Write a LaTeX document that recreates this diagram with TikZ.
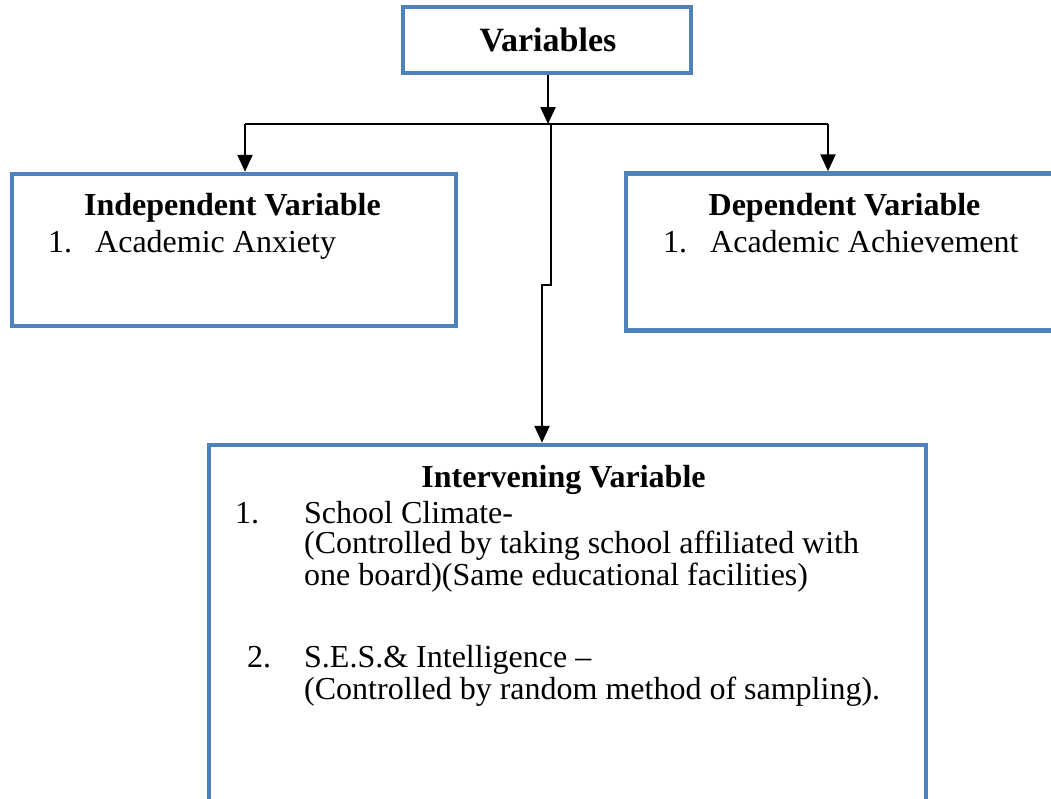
\documentclass[tikz,border=0pt]{standalone}
\usepackage{fontspec}
\setmainfont{Liberation Serif}
\usetikzlibrary{arrows.meta}
\definecolor{boxblue}{HTML}{4F81BD}
\tikzset{
  box/.style={draw=boxblue, line width=4.5pt, rectangle, inner sep=0pt, fill=none},
  arr/.style={draw=black, line width=2.4pt, -{Triangle[width=15pt,length=17pt]}},
  ln/.style={draw=black, line width=2.4pt},
  head/.style={anchor=base, inner sep=0pt, font=\bfseries\fontsize{32}{38}\selectfont},
  body/.style={anchor=base west, inner sep=0pt, font=\fontsize{32}{38}\selectfont},
}
\begin{document}
\begin{tikzpicture}[x=1pt,y=-1pt]
\useasboundingbox (0,0) rectangle (1051,798);
\clip (0,0) rectangle (1051,798);
% boxes
\node[box, minimum width=288pt, minimum height=66pt] (var) at (547,40) {};
\node[box, minimum width=444pt, minimum height=152pt] (indep) at (234,250) {};
\node[box, minimum width=440pt, minimum height=157pt] (dep) at (846,252) {};
\node[box, minimum width=717pt, minimum height=400pt] (interv) at (567.5,645) {};
% texts
\node[head, font=\bfseries\fontsize{34}{40}\selectfont] (tvar) at (548,51) {Variables};
\node[head] (tind) at (232.5,215) {Independent Variable};
\node[body] (ind1n) at (48,252) {1.};
\node[body] (ind1) at (95,252) {Academic Anxiety};
\node[head] (tdep) at (844.5,215) {Dependent Variable};
\node[body] (dep1n) at (663,252) {1.};
\node[body] (dep1) at (710,252) {Academic Achievement};
\node[head] (tint) at (563.5,487) {Intervening Variable};
\node[body] (i1n) at (235,523) {1.};
\node[body] (i1a) at (304,523) {School Climate-};
\node[body] (i1b) at (304,553) {(Controlled by taking school affiliated with};
\node[body] (i1c) at (304,585) {one board)(Same educational facilities)};
\node[body] (i2n) at (247,667) {2.};
\node[body] (i2a) at (304,667) {S.E.S.\& Intelligence --};
\node[body] (i2b) at (304,699) {(Controlled by random method of sampling).};
% connectors
\coordinate (jc) at (548,124);
\coordinate (jl) at (245,124);
\coordinate (jr) at (828,124);
\coordinate (js) at (551,124);
\coordinate (k1) at (551,285);
\coordinate (k2) at (542,285);
\draw[arr] (var.south -| jc) -- (jc);
\draw[ln] (jl) -- (jr);
\draw[arr] (jl) -- (jl |- indep.north);
\draw[arr] (jr) -- (jr |- dep.north);
\draw[arr] (js) -- (k1) -- (k2) -- (k2 |- interv.north);
\end{tikzpicture}
\end{document}
